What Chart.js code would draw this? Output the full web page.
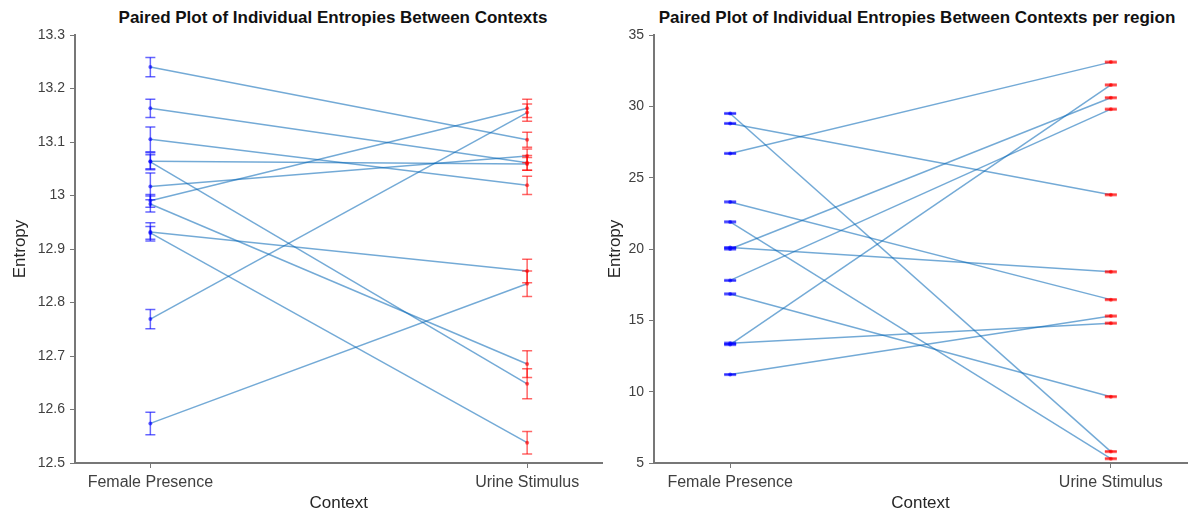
<!DOCTYPE html>
<html lang="en">
<head>
  <meta charset="UTF-8">
  <title>Paired Plot of Individual Entropies Between Contexts</title>
  <script src="https://cdn.jsdelivr.net/npm/chart.js"></script>
  <style>
    body {
      margin: 0;
      background: #fff;
      width: 1189px;
      height: 512px;
      position: relative;
      overflow: hidden;
      font-family: "Liberation Sans", Arial, sans-serif;
    }
    canvas {
      position: absolute;
      top: 0;
    }
    .title {
      position: absolute;
      top: 8px;
      width: 600px;
      font-weight: bold;
      font-size: 17px;
      line-height: 20px;
      color: #111;
      text-align: center;
      white-space: nowrap;
    }
  </style>
</head>
<body>
  <div class="title" style="left: 33px;">Paired Plot of Individual Entropies Between Contexts</div>
  <div class="title" style="left: 617px;">Paired Plot of Individual Entropies Between Contexts per region</div>
  <canvas id="entropyChart" width="609" height="512" style="left: 0;"></canvas>
  <canvas id="regionChart" width="590" height="512" style="left: 605px;"></canvas>

  <script>
    const contexts = ['Female Presence', 'Urine Stimulus'];

    // left panel: one entry per individual (female presence -> urine stimulus)
    const entFemale    = [13.240, 13.163, 13.105, 13.064, 13.063, 13.017, 12.990, 12.984, 12.932, 12.930, 12.769, 12.574];
    const entFemaleErr = [0.018, 0.017, 0.023, 0.016, 0.013, 0.025, 0.012, 0.015, 0.017, 0.012, 0.018, 0.021];
    const entUrine     = [13.104, 13.061, 13.019, 13.059, 12.648, 13.074, 13.163, 12.685, 12.859, 12.538, 13.155, 12.835];
    const entUrineErr  = [0.014, 0.014, 0.017, 0.012, 0.028, 0.013, 0.017, 0.025, 0.022, 0.021, 0.016, 0.024];
    const entTicks     = [12.5, 12.6, 12.7, 12.8, 12.9, 13.0, 13.1, 13.2, 13.3];

    // right panel: per region
    const regFemale    = [29.5, 28.8, 26.7, 23.3, 21.9, 20.0, 20.1, 17.8, 16.85, 13.3, 13.4, 11.2];
    const regFemaleErr = [0.04, 0.04, 0.04, 0.04, 0.04, 0.04, 0.04, 0.04, 0.04, 0.04, 0.04, 0.04];
    const regUrine     = [5.8, 23.8, 33.1, 16.45, 5.3, 30.6, 18.4, 29.8, 9.65, 31.5, 14.8, 15.3];
    const regUrineErr  = [0.04, 0.04, 0.04, 0.04, 0.04, 0.04, 0.04, 0.04, 0.04, 0.04, 0.04, 0.04];
    const regTicks     = [5, 10, 15, 20, 25, 30, 35];

    const FONT = "'Liberation Sans', Arial, sans-serif";
    const LINE = 'rgba(0, 100, 180, 0.55)';
    const BLUE = 'rgba(0, 0, 255, 0.6)';
    const RED = 'rgba(255, 0, 0, 0.6)';
    const AXIS = '#777';

    function pairedChart(id, female, femaleErr, urine, urineErr, yTicks, opt) {
      var datasets = [];

      // paired lines
      for (var i = 0; i < female.length; i++) {
        datasets.push({
          data: [{x: 1, y: female[i]}, {x: 2, y: urine[i]}],
          showLine: true,
          borderColor: LINE,
          borderWidth: 1.5,
          pointRadius: 0,
          order: 2
        });
      }

      // error bars + mean dots
      function bars(xPos, vals, errs, col) {
        vals.forEach(function(v, i) {
          datasets.push({
            data: [{x: xPos, y: v - errs[i]}, {x: xPos, y: v + errs[i]}],
            showLine: true,
            borderColor: col,
            borderWidth: opt.barWidth,
            pointStyle: 'line',
            pointRadius: opt.cap,
            pointBorderColor: col,
            pointBorderWidth: opt.barWidth,
            order: 1
          });
        });
        datasets.push({
          data: vals.map(function(v) { return {x: xPos, y: v}; }),
          pointStyle: 'circle',
          pointRadius: opt.dot,
          pointBackgroundColor: col,
          pointBorderColor: col,
          pointBorderWidth: 0,
          order: 0
        });
      }
      bars(1, female, femaleErr, BLUE);
      bars(2, urine, urineErr, RED);

      new Chart(document.getElementById(id), {
        type: 'scatter',
        data: { datasets: datasets },
        options: {
          responsive: false,
          animation: false,
          devicePixelRatio: 1,
          layout: { padding: { top: 35, right: 0, left: 0, bottom: 0 } },
          plugins: { legend: { display: false }, tooltip: { enabled: false } },
          scales: {
            x: {
              type: 'linear',
              min: 0.8,
              max: 2.2,
              afterBuildTicks: function(s) { s.ticks = [1, 2].map(function(v) { return {value: v}; }); },
              afterFit: function(s) { s.height = 49; },
              ticks: {
                callback: function(v) { return contexts[v - 1]; },
                font: { size: 16, family: FONT },
                color: '#404040',
                padding: 5,
                autoSkip: false,
                maxRotation: 0
              },
              grid: { drawOnChartArea: false, tickLength: 5, color: AXIS },
              border: { color: AXIS, width: 2 },
              title: {
                display: true,
                text: 'Context',
                font: { size: 17, family: FONT, lineHeight: 1 },
                color: '#262626',
                padding: { top: 0, bottom: 0 }
              }
            },
            y: {
              type: 'linear',
              min: yTicks[0],
              max: yTicks[yTicks.length - 1],
              afterBuildTicks: function(s) { s.ticks = yTicks.map(function(v) { return {value: v}; }); },
              afterFit: function(s) { s.width = opt.yWidth; },
              ticks: {
                callback: function(v) { return String(+v.toFixed(1)); },
                font: { size: 14, family: FONT },
                color: '#404040',
                padding: 5
              },
              grid: { drawOnChartArea: false, tickLength: 5, color: AXIS },
              border: { color: AXIS, width: 2 },
              title: {
                display: true,
                text: 'Entropy',
                font: { size: 17, family: FONT, lineHeight: 1 },
                color: '#262626',
                padding: { top: opt.yTitlePad, bottom: 0 }
              }
            }
          }
        }
      });
    }

    pairedChart('entropyChart', entFemale, entFemaleErr, entUrine, entUrineErr, entTicks,
      { yWidth: 75, yTitlePad: 11.5, cap: 5, barWidth: 1.5, dot: 2 });
    pairedChart('regionChart', regFemale, regFemaleErr, regUrine, regUrineErr, regTicks,
      { yWidth: 49, yTitlePad: 1.5, cap: 6, barWidth: 2, dot: 2 });
  </script>
</body>
</html>
